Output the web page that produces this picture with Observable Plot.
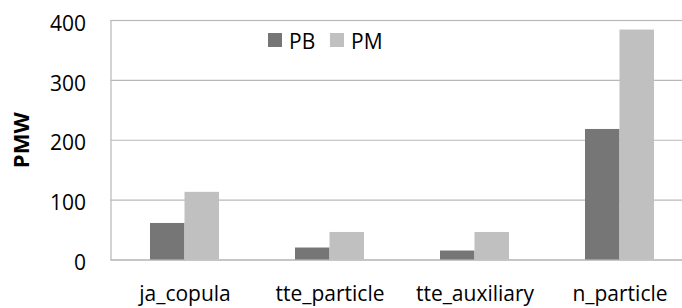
<!DOCTYPE html>
<html><head><meta charset="utf-8">
<script src="https://cdn.jsdelivr.net/npm/d3@7"></script>
<script src="https://cdn.jsdelivr.net/npm/@observablehq/plot@0.6"></script>
<style>
body{margin:0;background:#fff;}
#wrap{position:relative;width:682px;height:308px;overflow:hidden;font-family:"Open Sans";}
.sw{position:absolute;width:14px;height:14px;top:33px;}
.lt{position:absolute;font-size:21px;line-height:21px;top:31px;color:#000;}
</style></head><body><div id="wrap"></div>
<script>
const categories = ["ja_copula", "tte_particle", "tte_auxiliary", "n_particle"];
const seriesNames = ["PB", "PM"];
const pbValues = [61, 20, 15, 218];
const pmValues = [113, 46, 46, 384];
const yTicks = [0, 100, 200, 300, 400];
const yLabel = "PMW";
const colors = ["#767676", "#c0c0c0"];

const data = categories.map((c, i) => ({category: c, PB: pbValues[i], PM: pmValues[i]}));

const xOpts = {type: "band", domain: categories, range: [110.5, 692.8], paddingInner: 0.526, paddingOuter: 0.263};
const bw = Plot.scale({x: xOpts}).bandwidth;
const gridColor = "#b8b8b8";

const chart = Plot.plot({
  width: 682,
  height: 308,
  marginLeft: 110.5,
  marginRight: 0,
  marginTop: 20,
  marginBottom: 48.5,
  style: {fontFamily: "Open Sans", fontSize: "21px", color: "#000", background: "#fff"},
  x: {...xOpts, label: null},
  y: {domain: [0, 400], label: null},
  marks: [
    Plot.ruleY(yTicks, {stroke: gridColor, strokeWidth: 1.2}),
    Plot.frame({stroke: gridColor, strokeWidth: 1.2, insetRight: -6}),
    Plot.barY(data, {x: "category", y: "PB", fill: colors[0], insetRight: bw / 2}),
    Plot.barY(data, {x: "category", y: "PM", fill: colors[1], insetLeft: bw / 2}),
    Plot.axisY(yTicks, {tickSize: 0, tickPadding: 25, fontSize: 21, dy: 3.5, label: null}),
    Plot.axisX({tickSize: 0, tickPadding: 26, fontSize: 21, label: null}),
    Plot.text([yLabel], {frameAnchor: "left", textAnchor: "middle", lineAnchor: "middle", rotate: -90, dx: -89.5, fontWeight: "bold", fontSize: 22})
  ]
});
const wrap = document.getElementById("wrap");
wrap.appendChild(chart);

// legend overlay
const legendPos = [{sw: 268, tx: 289}, {sw: 330, tx: 351}];
seriesNames.forEach((s, i) => {
  const sw = document.createElement("div");
  sw.className = "sw"; sw.style.left = legendPos[i].sw + "px"; sw.style.background = colors[i];
  const t = document.createElement("div");
  t.className = "lt"; t.style.left = legendPos[i].tx + "px"; t.textContent = s;
  wrap.appendChild(sw); wrap.appendChild(t);
});
</script>
</body></html>
